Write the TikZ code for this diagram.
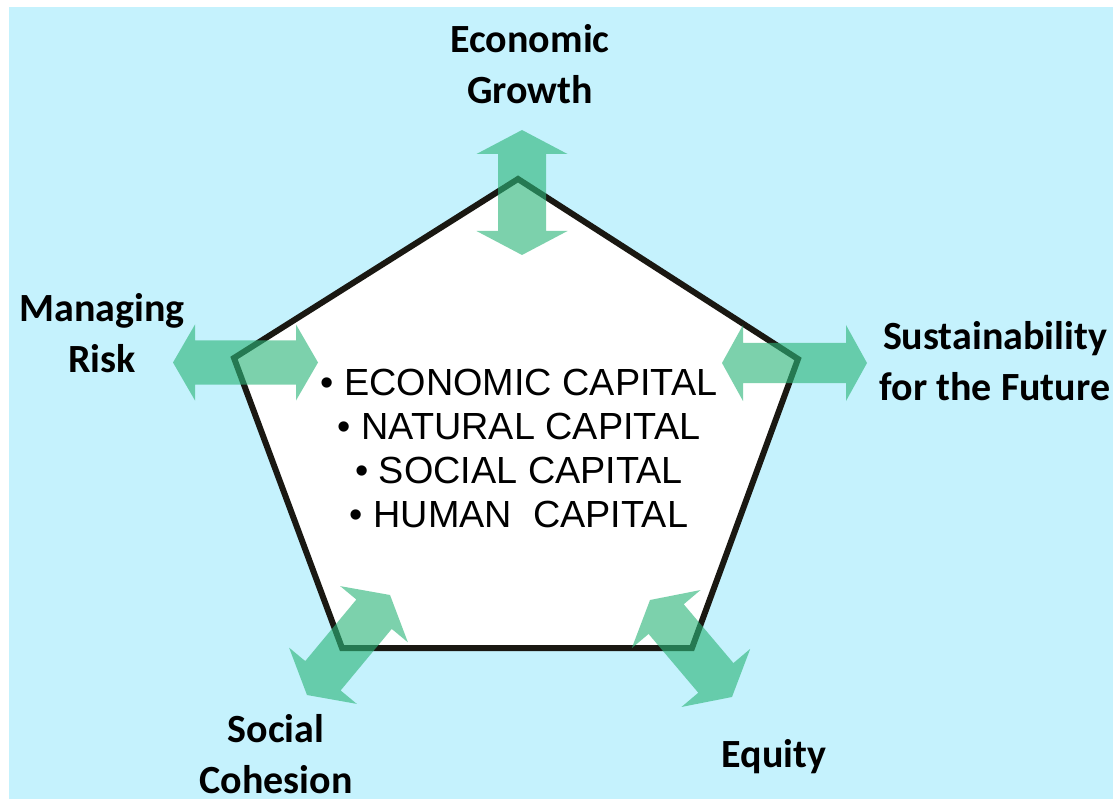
\documentclass[tikz,border=0pt]{standalone}
\usepackage{fontspec}
\setmainfont{Liberation Sans}
\newfontfamily\labelfont{Carlito}
\begin{document}
\definecolor{skyback}{RGB}{197,242,253}
\definecolor{framecol}{RGB}{26,24,18}
\definecolor{pillargreen}{RGB}{45,182,122}
% Double-headed arrow centred on a coordinate: #1 centre, #2 angle, #3 length,
% #4 half head width, #5 half shaft width, #6 head length
\newcommand\pillarArrow[6]{%
  \begin{scope}[shift={(#1)}, rotate=#2]
    \fill[arrowfill]
      (-#3/2,0) -- (-#3/2+#6,#4) -- (-#3/2+#6,#5) -- (#3/2-#6,#5) --
      (#3/2-#6,#4) -- (#3/2,0) -- (#3/2-#6,-#4) -- (#3/2-#6,-#5) --
      (-#3/2+#6,-#5) -- (-#3/2+#6,-#4) -- cycle;
  \end{scope}}
\begin{tikzpicture}[x=1pt, y=-1pt,
  arrowfill/.style={fill=pillargreen, fill opacity=0.62},
  pillar/.style={font=\labelfont\bfseries\fontsize{40}{51}\selectfont,
                 align=center, anchor=base, inner sep=0pt},
  capitals/.style={font=\fontsize{37.8}{44}\selectfont,
                   align=center, anchor=base, inner sep=0pt}]
  \useasboundingbox (0,0) rectangle (1113,799);
  \clip (0,0) rectangle (1113,799);
  % page and coloured panel
  \fill[white] (0,0) rectangle (1113,799);
  \fill[skyback] (9,7) rectangle (1113,799);

  % pentagon corners
  \coordinate (top) at (518,179);
  \coordinate (right) at (798,359);
  \coordinate (lowright) at (692,648);
  \coordinate (lowleft) at (342,648);
  \coordinate (left) at (234,358);
  \draw[framecol, line width=6pt, line join=miter, fill=white]
    (top) -- (right) -- (lowright) -- (lowleft) -- (left) -- cycle;

  % arrow centres
  \coordinate (growthArrow) at (522,192.5);
  \coordinate (riskArrow) at (245.5,362.5);
  \coordinate (futureArrow) at (794.5,363);
  \coordinate (cohesionArrow) at (348.5,645);
  \coordinate (equityArrow) at (691,648.5);
  \pillarArrow{growthArrow}{90}{125}{45.5}{24}{24}
  \pillarArrow{riskArrow}{0}{145}{38}{22}{22}
  \pillarArrow{futureArrow}{0}{145}{38}{20}{21}
  \pillarArrow{cohesionArrow}{50.3}{130}{44}{23}{25}
  \pillarArrow{equityArrow}{-49.8}{127}{45}{23}{25}

  % central list (anchored on the baseline of its last line)
  \node[capitals] (capitalList) at (519,527)
    {• ECONOMIC CAPITAL\\ • NATURAL CAPITAL\\ • SOCIAL CAPITAL\\ • HUMAN\ \ CAPITAL};

  % pillar labels (anchored on the baseline of their last line)
  \node[pillar] (growth) at (530,104) {Economic\\Growth};
  \node[pillar] (risk) at (102,372) {Managing\\Risk};
  \node[pillar] (future) at (995,400) {Sustainability\\for the Future};
  \node[pillar] (cohesion) at (276,793) {Social\\Cohesion};
  \node[pillar] (equity) at (774,767) {Equity};
\end{tikzpicture}
\end{document}
